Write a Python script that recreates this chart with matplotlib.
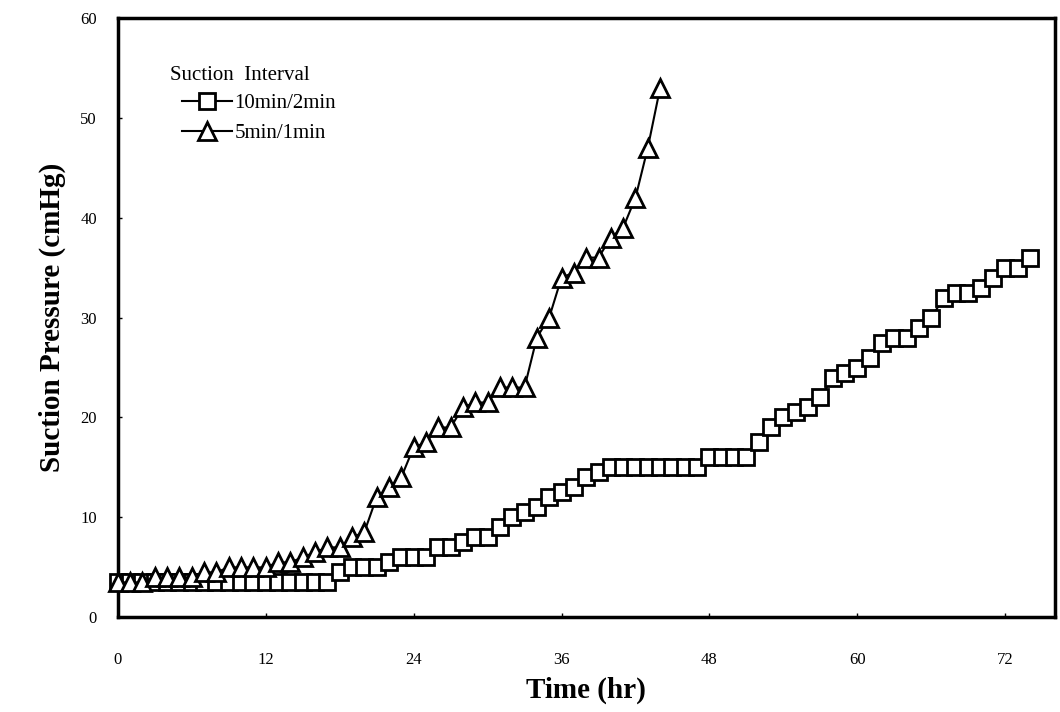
"""
Suction pressure vs time for two suction intervals.
"""

import matplotlib
matplotlib.use("Agg")
import matplotlib.pyplot as plt

plt.rcParams["font.family"] = "Liberation Serif"

# hourly readings, 10min/2min interval
hours_10 = [0, 1, 2, 3, 4, 5, 6, 7, 8, 9, 10, 11, 12, 13, 14, 15, 16, 17, 18, 19,
            20, 21, 22, 23, 24, 25, 26, 27, 28, 29, 30, 31, 32, 33, 34, 35, 36, 37, 38, 39,
            40, 41, 42, 43, 44, 45, 46, 47, 48, 49, 50, 51, 52, 53, 54, 55, 56, 57, 58, 59,
            60, 61, 62, 63, 64, 65, 66, 67, 68, 69, 70, 71, 72, 73, 74]
press_10 = [3.5, 3.5, 3.5, 3.5, 3.5, 3.5, 3.5, 3.5, 3.5, 3.5,
            3.5, 3.5, 3.5, 3.5, 3.5, 3.5, 3.5, 3.5, 4.5, 5,
            5, 5, 5.5, 6, 6, 6, 7, 7, 7.5, 8,
            8, 9, 10, 10.5, 11, 12, 12.5, 13, 14, 14.5,
            15, 15, 15, 15, 15, 15, 15, 15, 16, 16,
            16, 16, 17.5, 19, 20, 20.5, 21, 22, 24, 24.5,
            25, 26, 27.5, 28, 28, 29, 30, 32, 32.5, 32.5,
            33, 34, 35, 35, 36]

# hourly readings, 5min/1min interval
hours_5 = [0, 1, 2, 3, 4, 5, 6, 7, 8, 9, 10, 11, 12, 13, 14, 15, 16, 17, 18, 19,
           20, 21, 22, 23, 24, 25, 26, 27, 28, 29, 30, 31, 32, 33, 34, 35, 36, 37, 38, 39,
           40, 41, 42, 43, 44]
press_5 = [3.5, 3.5, 3.5, 4, 4, 4, 4, 4.5, 4.5, 5,
           5, 5, 5, 5.5, 5.5, 6, 6.5, 7, 7, 8,
           8.5, 12, 13, 14, 17, 17.5, 19, 19, 21, 21.5,
           21.5, 23, 23, 23, 28, 30, 34, 34.5, 36, 36,
           38, 39, 42, 47, 53]

x_ticks = [0, 12, 24, 36, 48, 60, 72]
y_ticks = [0, 10, 20, 30, 40, 50, 60]

fig = plt.figure(figsize=(10.6, 7.12), dpi=100)
ax = fig.add_axes([0.111, 0.133, 0.884, 0.842])

ax.plot(hours_10, press_10, color="black", lw=1.5, marker="s", ms=12,
        mfc="white", mec="black", mew=2, label="10min/2min", clip_on=False, zorder=3)
ax.plot(hours_5, press_5, color="black", lw=1.5, marker="^", ms=13,
        mfc="white", mec="black", mew=2, label="5min/1min", clip_on=False, zorder=4)

ax.set_xlim(0, 76)
ax.set_ylim(0, 60)
ax.set_xticks(x_ticks)
ax.set_yticks(y_ticks)
ax.tick_params(direction="in", length=3, width=1, labelsize=12)
ax.tick_params(axis="x", pad=25)
ax.tick_params(axis="y", pad=15)
for s in ax.spines.values():
    s.set_linewidth(2.5)

ax.set_xlabel("Time (hr)", fontsize=21, fontweight="bold", labelpad=6)
ax.set_ylabel("Suction Pressure (cmHg)", fontsize=21, fontweight="bold", labelpad=10)

# legend title sits a little left of the handles, as in the original
ax.text(0.0555, 0.903, "Suction  Interval", transform=ax.transAxes,
        fontsize=15, ha="left", va="center")
ax.legend(loc="upper left", frameon=False, fontsize=15, handlelength=2.4,
          handletextpad=0.1, borderaxespad=0.0, borderpad=0.0,
          bbox_to_anchor=(0.069, 0.874), labelspacing=0.5)

fig.savefig("out.png")
